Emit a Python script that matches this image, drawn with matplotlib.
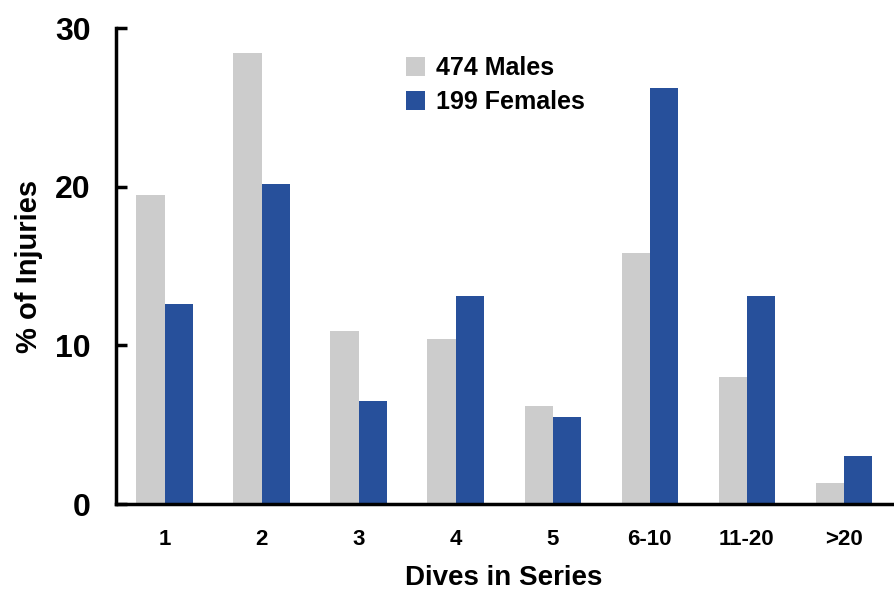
import matplotlib
matplotlib.use("Agg")
import matplotlib.pyplot as plt
import numpy as np

categories = ["1", "2", "3", "4", "5", "6-10", "11-20", ">20"]
males = [19.5, 28.4, 10.9, 10.4, 6.2, 15.8, 8.0, 1.3]
females = [12.6, 20.2, 6.5, 13.1, 5.5, 26.2, 13.1, 3.0]
series_names = ["474 Males", "199 Females"]
yticks = [0, 10, 20, 30]

plt.rcParams['font.family'] = ['Liberation Sans', 'DejaVu Sans']
plt.rcParams['font.weight'] = 'bold'

fig = plt.figure(figsize=(8.95, 5.92), dpi=100)
ax = fig.add_axes([0.1296, 0.1486, 0.8674, 0.8041])

x = np.arange(len(categories))
w = 0.29
ax.bar(x - w/2, males, width=w, color="#cccccc", label=series_names[0])
ax.bar(x + w/2, females, width=w, color="#27509b", label=series_names[1])

ax.set_xlim(-0.5, len(categories) - 0.5)
ax.set_ylim(0, 30)
ax.set_yticks(yticks)
ax.set_yticklabels([str(t) for t in yticks], fontsize=23, fontweight='bold')
ax.set_xticks(x)
ax.set_xticklabels(categories, fontsize=16, fontweight='bold')
ax.tick_params(axis='x', length=0, pad=18)
ax.tick_params(axis='y', direction='in', length=8, width=2.5, pad=18)

for s in ['top', 'right']:
    ax.spines[s].set_visible(False)
for s in ['left', 'bottom']:
    ax.spines[s].set_linewidth(2.5)

ax.set_xlabel("Dives in Series", fontsize=20, fontweight='bold', labelpad=11)
ax.set_ylabel("% of Injuries", fontsize=21, fontweight='bold', labelpad=9)

leg = ax.legend(loc='upper left', bbox_to_anchor=(0.345, 0.988), frameon=False,
                handlelength=0.75, handleheight=0.75, handletextpad=0.45,
                labelspacing=0.4, prop={'weight': 'bold', 'size': 18})

fig.savefig("out.png", dpi=100)
